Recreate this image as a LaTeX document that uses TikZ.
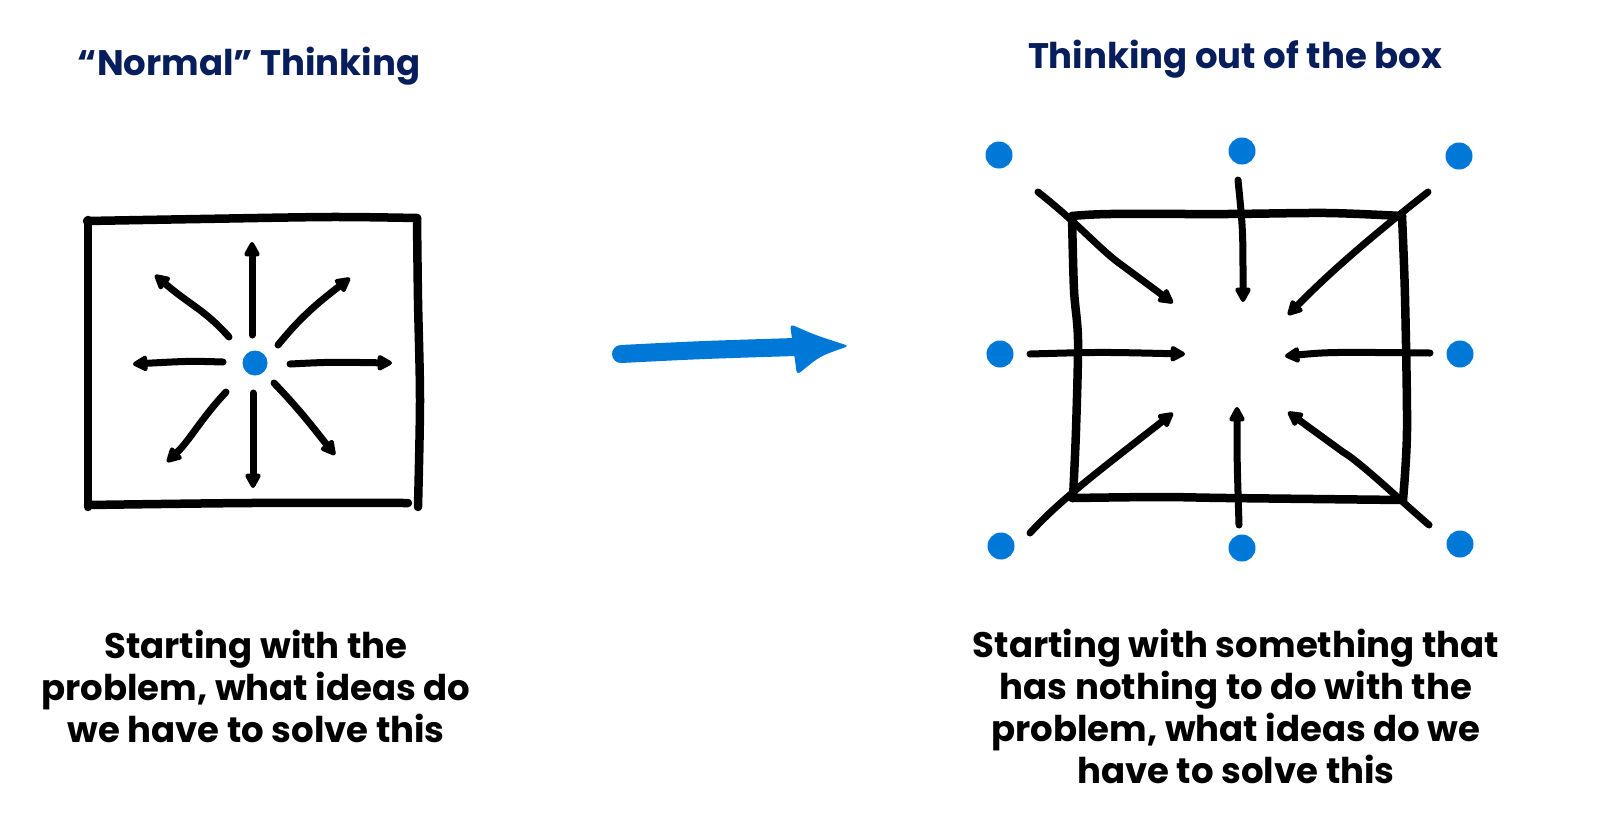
\documentclass[tikz,border=0pt]{standalone}
\usepackage{fontspec}
\setmainfont{Poppins}
\usetikzlibrary{arrows.meta}
\definecolor{navy}{RGB}{8,30,92}
\definecolor{dotblue}{RGB}{0,120,215}
\tikzset{
  sketch/.style={line width=8.5pt, line cap=round, line join=round, black},
  ray/.style={line width=7pt, line cap=round, line join=round, black,
    -{Triangle[length=17pt,width=17pt,round]}},
  dot/.style={circle, fill=dotblue, inner sep=0pt, minimum size=27pt},
  title/.style={text=navy, font=\fontsize{35.5}{40}\selectfont\bfseries},
  caption/.style={text=black, align=center, font=\fontsize{35.5}{42}\selectfont\bfseries}
}
\begin{document}
\begin{tikzpicture}[x=1pt,y=-1pt]
\useasboundingbox[fill=white] (0,0) rectangle (1600,839);

% titles
\node[title] (t1) at (249,66) {“Normal” Thinking};
\node[title] (t2) at (1235,59) {Thinking out of the box};

% ---------- left box ----------
\draw[sketch] plot[smooth] coordinates {(87,221) (200,219) (330,217) (417,218)};
\draw[sketch] plot[smooth] coordinates {(417,218) (418,300) (420,400) (418,507)};
\draw[sketch] plot[smooth] coordinates {(88,220) (88,360) (88,507)};
\draw[sketch] plot[smooth] coordinates {(88,505) (250,503) (408,503)};

\node[circle, fill=dotblue, inner sep=0pt, minimum width=25pt, minimum height=22pt] (c) at (255,363) {};

\coordinate (u0) at (252,335); \coordinate (u1) at (252,242);
\coordinate (d0) at (253,393); \coordinate (d1) at (253,488);
\coordinate (l0) at (223,362); \coordinate (l1) at (133,364);
\coordinate (r0) at (290,364); \coordinate (r1) at (392,363);
\coordinate (ul0) at (229,337); \coordinate (ul1) at (155,275);
\coordinate (ur0) at (278,345); \coordinate (ur1) at (350,278);
\coordinate (dl0) at (226,392); \coordinate (dl1) at (167,462);
\coordinate (dr0) at (274,383); \coordinate (dr1) at (335,455);

\draw[ray] (u0) -- (u1);
\draw[ray] (d0) -- (d1);
\draw[ray] (l0) .. controls (190,361) .. (l1);
\draw[ray] (r0) .. controls (330,362) .. (r1);
\draw[ray] (ul0) .. controls (205,310) and (190,305) .. (ul1);
\draw[ray] (ur0) .. controls (300,318) and (315,305) .. (ur1);
\draw[ray] (dl0) .. controls (200,420) and (190,440) .. (dl1);
\draw[ray] (dr0) .. controls (300,410) and (315,430) .. (dr1);

% ---------- big blue arrow ----------
\coordinate (ba0) at (621,354);
\coordinate (ba1) at (795,347);
\draw[dotblue, line width=18pt, line cap=round] (ba0) .. controls (700,350) .. (ba1);
\fill[dotblue, rounded corners=4pt] (790,324) .. controls (815,335) .. (849,346) .. controls (820,356) .. (797,375) -- cycle;

% ---------- right box ----------
\draw[sketch] plot[smooth] coordinates {(1072,216) (1110,214) (1227,214) (1327,213) (1402,216)};
\draw[sketch] plot[smooth] coordinates {(1072,216) (1074,290) (1078,340) (1076,430) (1073,498)};
\draw[sketch] plot[smooth] coordinates {(1402,216) (1405,297) (1407,430) (1403,500)};
\draw[sketch] plot[smooth] coordinates {(1072,498) (1160,497) (1227,498) (1403,500)};

\node[dot] (p1) at (999,155) {};
\node[dot] (p2) at (1242,151) {};
\node[dot] (p3) at (1459,156) {};
\node[dot] (p4) at (1000,354) {};
\node[dot] (p5) at (1460,354) {};
\node[dot] (p6) at (1001,546) {};
\node[dot] (p7) at (1242,548) {};
\node[dot] (p8) at (1460,544) {};

\coordinate (s1) at (1038,192); \coordinate (e1) at (1173,303);
\coordinate (s2) at (1238,180); \coordinate (e2) at (1243,302);
\coordinate (s3) at (1428,192); \coordinate (e3) at (1288,315);
\coordinate (s4) at (1030,354); \coordinate (e4) at (1185,354);
\coordinate (s5) at (1430,353); \coordinate (e5) at (1285,356);
\coordinate (s6) at (1030,533); \coordinate (e6) at (1173,413);
\coordinate (s7) at (1239,525); \coordinate (e7) at (1237,407);
\coordinate (s8) at (1429,525); \coordinate (e8) at (1288,412);

\draw[ray] (s1) .. controls (1080,225) and (1100,250) .. (1123,266) -- (e1);
\draw[ray] (s2) .. controls (1243,230) .. (e2);
\draw[ray] (s3) .. controls (1390,222) and (1340,262) .. (e3);
\draw[ray] (s4) .. controls (1100,352) .. (e4);
\draw[ray] (s5) .. controls (1330,352) .. (e5);
\draw[ray] (s6) .. controls (1060,500) and (1100,470) .. (e6);
\draw[ray] (s7) .. controls (1237,460) .. (e7);
\draw[ray] (s8) .. controls (1400,500) and (1360,462) .. (1343,452) -- (e8);

% captions
\node[caption] (cap1) at (256,686) {Starting with the\\problem, what ideas do\\we have to solve this};
\node[caption] (cap2) at (1236,706) {Starting with something that\\has nothing to do with the\\problem, what ideas do we\\have to solve this};
\end{tikzpicture}
\end{document}
